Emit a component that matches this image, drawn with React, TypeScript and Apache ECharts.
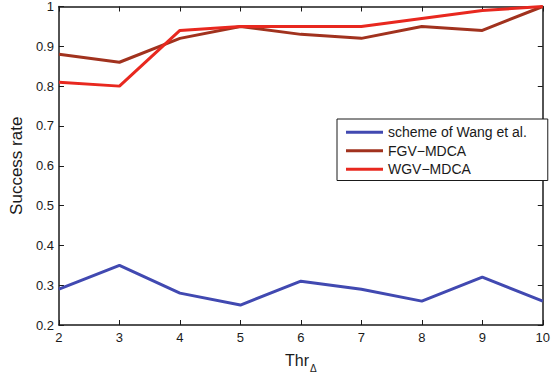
import React, { useEffect, useRef } from "react";
import * as echarts from "echarts";

const thresholds = [2, 3, 4, 5, 6, 7, 8, 9, 10];
const wangValues = [0.29, 0.35, 0.28, 0.25, 0.31, 0.29, 0.26, 0.32, 0.26];
const fgvValues = [0.88, 0.86, 0.92, 0.95, 0.93, 0.92, 0.95, 0.94, 1.0];
const wgvValues = [0.81, 0.8, 0.94, 0.95, 0.95, 0.95, 0.97, 0.99, 1.0];
const seriesNames = ["scheme of Wang et al.", "FGV\u2212MDCA", "WGV\u2212MDCA"];
const seriesColors = ["#4149b1", "#a1321e", "#e8281f"];

const FONT = "Liberation Sans, Arial, Helvetica, sans-serif";

export default function App() {
  const ref = useRef<HTMLDivElement>(null);
  useEffect(() => {
    if (!ref.current) return;
    const chart = echarts.init(ref.current, undefined, { renderer: "svg" });
    const pair = (vals: number[]) => thresholds.map((t, i) => [t, vals[i]]);
    const allVals = [wangValues, fgvValues, wgvValues];
    const axisLine = { show: true, lineStyle: { color: "#1a1a1a", width: 1.5 } };
    const tick = { show: true, inside: true, length: 5, lineStyle: { color: "#1a1a1a", width: 1 } };
    chart.setOption({
      animation: false,
      backgroundColor: "#ffffff",
      textStyle: { fontFamily: FONT },
      grid: { left: 53, right: 6, top: 6, bottom: 47, containLabel: false },
      xAxis: [
        {
          type: "value",
          min: 2,
          max: 10,
          interval: 1,
          position: "bottom",
          axisLine,
          axisTick: tick,
          splitLine: { show: false },
          axisLabel: { color: "#1a1a1a", fontSize: 13, margin: 6, fontFamily: FONT },
          name: "{a|Thr}{b|\u0394}",
          nameLocation: "middle",
          nameGap: 23,
          nameTextStyle: {
            rich: {
              a: { fontSize: 16, color: "#1a1a1a", fontFamily: FONT },
              b: { fontSize: 10, color: "#1a1a1a", fontFamily: FONT, padding: [15, 0, 0, 1] },
            },
          },
        },
        {
          type: "value",
          min: 2,
          max: 10,
          interval: 1,
          position: "top",
          axisLine,
          axisTick: tick,
          splitLine: { show: false },
          axisLabel: { show: false },
        },
      ],
      yAxis: [
        {
          type: "value",
          min: 0.2,
          max: 1,
          interval: 0.1,
          position: "left",
          axisLine,
          axisTick: tick,
          splitLine: { show: false },
          axisLabel: {
            color: "#1a1a1a",
            fontSize: 13,
            margin: 5,
            fontFamily: FONT,
            formatter: (v: number) => String(Math.round(v * 10) / 10),
          },
          name: "Success rate",
          nameLocation: "middle",
          nameGap: 32,
          nameTextStyle: { fontSize: 17, color: "#1a1a1a", fontFamily: FONT },
        },
        {
          type: "value",
          min: 0.2,
          max: 1,
          interval: 0.1,
          position: "right",
          axisLine,
          axisTick: tick,
          splitLine: { show: false },
          axisLabel: { show: false },
        },
      ],
      legend: {
        show: true,
        orient: "vertical",
        left: 337,
        top: 119,
        data: seriesNames.map((name) => ({ name, icon: "rect" })),
        itemWidth: 37,
        itemHeight: 3,
        itemGap: 0,
        padding: [4, 21, 2, 9],
        borderColor: "#1a1a1a",
        borderWidth: 1,
        borderRadius: 0,
        backgroundColor: "#ffffff",
        textStyle: { fontSize: 14, lineHeight: 18.5, color: "#1a1a1a", fontFamily: FONT },
        selectedMode: false,
      },
      series: seriesNames.map((name, i) => ({
        name,
        type: "line",
        data: pair(allVals[i]),
        symbol: "none",
        lineStyle: { color: seriesColors[i], width: 3 },
        itemStyle: { color: seriesColors[i] },
        emphasis: { disabled: true },
        z: 2 + i,
      })),
    });
    return () => chart.dispose();
  }, []);
  return (
    <div
      ref={ref}
      style={{ position: "fixed", left: 0, top: 0, width: 553, height: 378 }}
    />
  );
}
